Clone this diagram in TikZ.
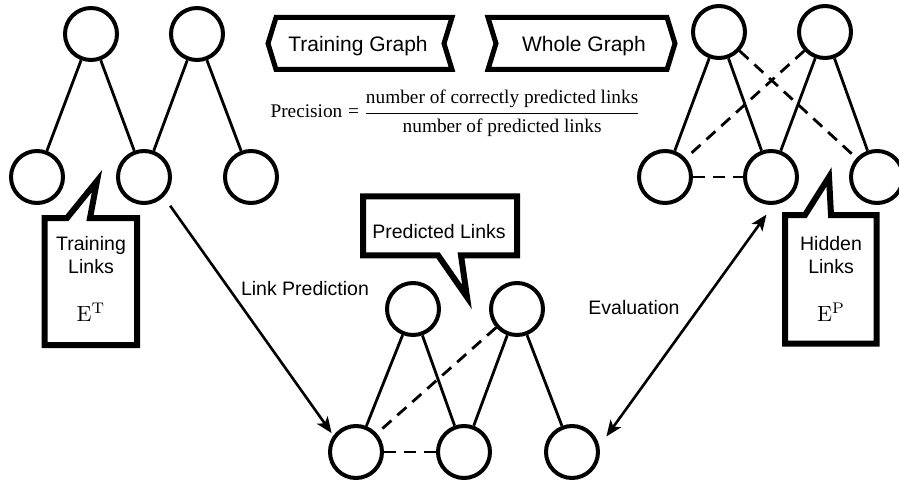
\documentclass[tikz,border=0pt]{standalone}
\usepackage{fontspec}
\newfontfamily\labelfont{Liberation Sans}
\newfontfamily\formulafont{Liberation Serif}
\usetikzlibrary{arrows.meta}

\begin{document}
\begin{tikzpicture}[x=1pt, y=-1pt, line join=miter,
    >={Stealth[length=16pt, width=13pt, inset=4pt]},
    vertex/.style={circle, draw, line width=4pt, minimum size=52pt, inner sep=0pt},
    link/.style={line width=2.8pt},
    hidlink/.style={link, dash pattern=on 12pt off 8pt},
    banner/.style={line width=5pt},
    callout/.style={line width=6pt},
    flow/.style={line width=2.6pt},
    tag/.style={font=\labelfont\fontsize{19.5}{23}\selectfont, inner sep=0pt, align=center},
    bannertag/.style={tag, font=\labelfont\fontsize{21}{25}\selectfont, anchor=base},
    setname/.style={font=\fontsize{10}{12}\selectfont, scale=2.2, transform shape, inner sep=0pt, anchor=base}]
  \fill[white] (0,0) rectangle (899,481);
  \useasboundingbox (0,0) rectangle (899,481);

  % training graph
  \node[vertex] (tt1) at (91,34) {};
  \node[vertex] (tt2) at (197,34) {};
  \node[vertex] (tb1) at (37,177) {};
  \node[vertex] (tb2) at (144,177) {};
  \node[vertex] (tb3) at (251,177) {};
  \draw[link] (tt1) -- (tb1);
  \draw[link] (tt1) -- (tb2);
  \draw[link] (tt2) -- (tb2);
  \draw[link] (tt2) -- (tb3);

  % predicted graph
  \node[vertex] (pt1) at (413,309) {};
  \node[vertex] (pt2) at (517,309) {};
  \node[vertex] (pb1) at (356,452) {};
  \node[vertex] (pb2) at (464,452) {};
  \node[vertex] (pb3) at (572,452) {};
  \draw[link] (pt1) -- (pb1);
  \draw[link] (pt1) -- (pb2);
  \draw[link] (pt2) -- (pb2);
  \draw[link] (pt2) -- (pb3);
  \draw[hidlink] (pt2) -- (pb1);   % predicted links
  \draw[hidlink] (pb1) -- (pb2);

  % whole graph
  \node[vertex] (wt1) at (719,32) {};
  \node[vertex] (wt2) at (825,32) {};
  \node[vertex] (wb1) at (665,177) {};
  \node[vertex] (wb2) at (771,177) {};
  \node[vertex] (wb3) at (877,177) {};
  \draw[link] (wt1) -- (wb1);
  \draw[link] (wt1) -- (wb2);
  \draw[link] (wt2) -- (wb2);
  \draw[link] (wt2) -- (wb3);
  \draw[hidlink] (wt1) -- (wb3);   % hidden links
  \draw[hidlink] (wt2) -- (wb1);
  \draw[hidlink] (wb1) -- (wb2);

  % banners
  \draw[banner] (268,43.5) -- (276,17.5) -- (452,17.5) -- (444,43.5) -- (452,69.5) -- (276,69.5) -- cycle;
  \node[bannertag] (tgname) at (358,51.5) {Training Graph};
  \draw[banner] (488,17.5) -- (667,17.5) -- (675,43.5) -- (667,69.5) -- (488,69.5) -- (496,43.5) -- cycle;
  \node[bannertag] (wgname) at (584,51.5) {Whole Graph};

  \node[anchor=base, inner sep=0pt, font=\fontsize{19.3}{23}\selectfont] (prec) at (455,118)
    {$\displaystyle \mbox{\formulafont Precision} \mathrel{\mbox{\formulafont =}}
      \frac{\mbox{\formulafont number of correctly predicted links}}{\mbox{\formulafont number of predicted links}}$};

  % callouts
  \draw[callout] (44.7,218) -- (67,218) -- (97,181) -- (90,218) -- (137,218) -- (137,345) -- (44.7,345) -- cycle;
  \node[tag] (trlinks) at (91,255.4) {Training\\Links};
  \node[setname] (etrain) at (91,321) {$\mathrm{E}^{\mathrm{T}}$};

  \draw[callout] (785,215) -- (805,215) -- (829,177) -- (831,215) -- (876.5,215) -- (876.5,343.5) -- (785,343.5) -- cycle;
  \node[tag] (hdlinks) at (831,255.4) {Hidden\\Links};
  \node[setname] (ehidden) at (831,321) {$\mathrm{E}^{\mathrm{P}}$};

  \draw[callout] (363,196.3) -- (517,196.3) -- (517,255.3) -- (461,255.3) -- (467,297) -- (438,255.3) -- (363,255.3) -- cycle;
  \node[tag, anchor=base] (prlinks) at (439,238) {Predicted Links};

  % steps
  \draw[flow, ->, shorten <=11pt, shorten >=3pt] (tb2.-45) -- (pb1.144);
  \node[tag, anchor=base] (lpname) at (305,295) {Link Prediction};
  \draw[flow, <->, shorten <=12pt, shorten >=12pt] (pb3.12) -- (wb2.-85);
  \node[tag, anchor=base] (evname) at (634,314) {Evaluation};
\end{tikzpicture}
\end{document}
